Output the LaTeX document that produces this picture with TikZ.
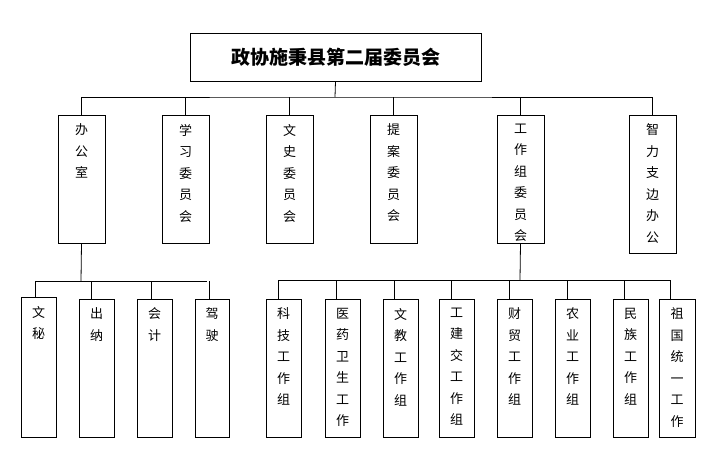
\documentclass[tikz,border=0pt]{standalone}
\usepackage{fontspec}
\newfontfamily\cjk{Noto Sans CJK SC}
\begin{document}
\begin{tikzpicture}[x=1pt,y=-1pt,line width=0.8pt,
  box/.style={draw,inner sep=0pt},
  lbl/.style={anchor=north,align=center,font=\cjk\fontsize{13}{21.5}\selectfont,inner sep=0pt}]
\useasboundingbox (0,0) rectangle (713,455);
\newcommand\bx[6]{%
  \node[box,minimum width={#4-#2},minimum height={#5-#3}] (#1) at ({(#2+#4)/2},{(#3+#5)/2}) {};
  \node[lbl] at ([yshift=-9pt]#1.north) {#6};}
\node[box,minimum width=291,minimum height=48,font=\cjk\bfseries\fontsize{19}{22}\selectfont] (t) at (335.5,57) {政协施秉县第二届委员会};
\bx{a}{58}{115}{105}{243}{办\\公\\室}
\bx{b}{162}{115}{209}{243}{学\\习\\委\\员\\会}
\bx{c}{266}{115}{313}{243}{文\\史\\委\\员\\会}
\bx{d}{370}{115}{417}{243}{提\\案\\委\\员\\会}
\bx{e}{497}{115}{544}{243}{工\\作\\组\\委\\员\\会}
\bx{f}{629}{115}{676}{253}{智\\力\\支\\边\\办\\公}
\coordinate (tb) at (335,97);
\draw (t.south) -- (tb);
\draw (a.north) |- (tb) -| (f.north);
\foreach \n in {b,c,d,e} \draw (\n.north) -- (\n.north |- tb);
% left group
\bx{l1}{21}{297}{56}{437}{文\\秘}
\bx{l2}{79}{299}{114}{437}{出\\纳}
\bx{l3}{137}{299}{172}{437}{会\\计}
\bx{l4}{195}{299}{229}{437}{驾\\驶}
\coordinate (lb) at (81,281);
\draw (a.south) -- (lb);
\draw (35,281) -- (207,281);
\draw (35,281) -- (35,297);
\draw (91,281) -- (91,299);
\draw (151,281) -- (151,299);
\draw (209,281) -- (209,299);
% right group
\bx{r1}{266}{299}{301}{437}{科\\技\\工\\作\\组}
\bx{r2}{325}{299}{360}{437}{医\\药\\卫\\生\\工\\作}
\bx{r3}{383}{299}{418}{437}{文\\教\\工\\作\\组}
\bx{r4}{439}{299}{474}{437}{工\\建\\交\\工\\作\\组}
\bx{r5}{497}{299}{532}{437}{财\\贸\\工\\作\\组}
\bx{r6}{555}{299}{590}{437}{农\\业\\工\\作\\组}
\bx{r7}{613}{299}{648}{437}{民\\族\\工\\作\\组}
\bx{r8}{659}{299}{695}{437}{祖\\国\\统\\一\\工\\作}
\coordinate (rb) at (520,280);
\draw (e.south) -- (rb);
\draw (278,299) -- (278,280) -- (670,280) -- (670,299);
\foreach \xx in {336,394,451,509,567,624} \draw (\xx,280) -- (\xx,299);
\end{tikzpicture}
\end{document}
